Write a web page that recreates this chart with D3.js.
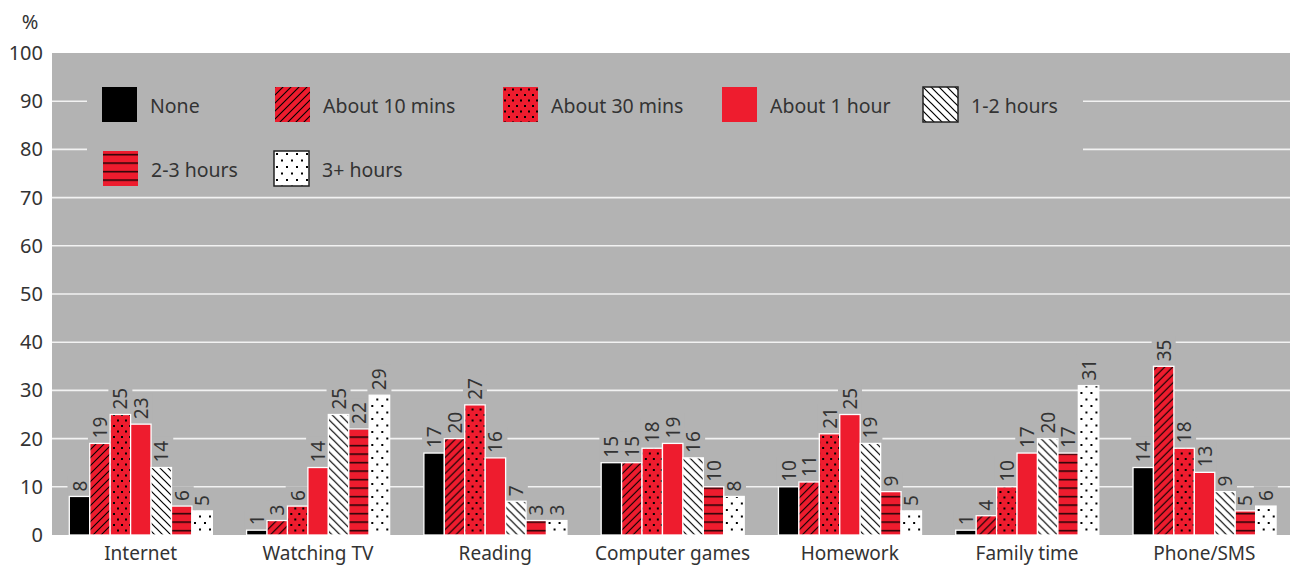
<!DOCTYPE html>
<html>
<head>
<meta charset="utf-8">
<script src="https://cdn.jsdelivr.net/npm/d3@7"></script>
<style>
  html, body { margin: 0; padding: 0; background: #fff; }
  svg { display: block; }
  text { font-family: "Noto Sans", "Open Sans", sans-serif; fill: #333; }
</style>
</head>
<body>
<svg id="chart" width="1290" height="565"></svg>
<script>
// Activities and how long children spend on them (% of respondents)
const categories = ["Internet", "Watching TV", "Reading", "Computer games", "Homework", "Family time", "Phone/SMS"];
const seriesNames = ["None", "About 10 mins", "About 30 mins", "About 1 hour", "1-2 hours", "2-3 hours", "3+ hours"];

const none        = [8, 1, 17, 15, 10, 1, 14];
const about10mins = [19, 3, 20, 15, 11, 4, 35];
const about30mins = [25, 6, 27, 18, 21, 10, 18];
const about1hour  = [23, 14, 16, 19, 25, 17, 13];
const hours1to2   = [14, 25, 7, 16, 19, 20, 9];
const hours2to3   = [6, 22, 3, 10, 9, 17, 5];
const hours3plus  = [5, 29, 3, 8, 5, 31, 6];

const yTicks = [0, 10, 20, 30, 40, 50, 60, 70, 80, 90, 100];

const seriesValues = [none, about10mins, about30mins, about1hour, hours1to2, hours2to3, hours3plus];

const RED = "#ee1c2e";
const GREY = "#b3b3b3";

const svg = d3.select("#chart");
const plot = { left: 52, right: 1290, top: 53, bottom: 535 };

const y = d3.scaleLinear().domain([0, 100]).range([plot.bottom, plot.top]);
const x0 = d3.scaleBand().domain(categories).range([plot.left, 1293]).paddingInner(0).paddingOuter(0);
const bw = x0.bandwidth();
const x1 = d3.scaleBand().domain(seriesNames).range([bw * 0.0976, bw * 0.9045]).padding(0);

// ---------- fill patterns ----------
const defs = svg.append("defs");

function pattern(id, w, h, bg) {
  const p = defs.append("pattern").attr("id", id).attr("patternUnits", "userSpaceOnUse")
    .attr("width", w).attr("height", h);
  p.append("rect").attr("width", w).attr("height", h).attr("fill", bg);
  return p;
}
// forward diagonal hatch on red
{
  const p = pattern("hatchFwd", 8, 8, RED);
  p.append("path").attr("d", "M-2,2 L2,-2 M0,8 L8,0 M6,10 L10,6").attr("stroke", "#000").attr("stroke-width", 1.1);
}
// dense dots on red
{
  const p = pattern("dotsRed", 8, 11, RED);
  p.append("rect").attr("x", 1).attr("y", 1.5).attr("width", 2).attr("height", 2).attr("fill", "#000");
  p.append("rect").attr("x", 5).attr("y", 7).attr("width", 2).attr("height", 2).attr("fill", "#000");
}
// backward diagonal hatch on white
{
  const p = pattern("hatchBack", 8, 8, "#fff");
  p.append("path").attr("d", "M-2,6 L2,10 M0,0 L8,8 M6,-2 L10,2").attr("stroke", "#000").attr("stroke-width", 1.2);
}
// horizontal stripes on red
{
  const p = pattern("stripes", 8, 8.5, RED);
  p.append("rect").attr("x", 0).attr("y", 3).attr("width", 8).attr("height", 1.3).attr("fill", "#000");
}
// sparse dots on white
{
  const p = pattern("dotsWhite", 10, 13, "#fff");
  p.append("rect").attr("x", 2).attr("y", 2).attr("width", 2).attr("height", 2).attr("fill", "#000");
  p.append("rect").attr("x", 7).attr("y", 8.5).attr("width", 2).attr("height", 2).attr("fill", "#000");
}

const fills = ["#000", "url(#hatchFwd)", "url(#dotsRed)", RED, "url(#hatchBack)", "url(#stripes)", "url(#dotsWhite)"];
const fillOf = d3.scaleOrdinal().domain(seriesNames).range(fills);

// ---------- background and grid ----------
svg.append("rect").attr("x", plot.left).attr("y", plot.top)
  .attr("width", plot.right - plot.left).attr("height", plot.bottom - plot.top).attr("fill", GREY);

const grid = svg.append("g");
grid.selectAll("line").data(yTicks.filter(t => t > 0 && t < 100)).join("line")
  .attr("x1", plot.left).attr("x2", plot.right)
  .attr("y1", d => y(d)).attr("y2", d => y(d))
  .attr("stroke", "#f2f2f2").attr("stroke-width", 1.6);

// y axis labels
const yAxis = svg.append("g").attr("transform", `translate(${plot.left},0)`)
  .call(d3.axisLeft(y).tickValues(yTicks).tickSize(0).tickPadding(9));
yAxis.select(".domain").remove();
yAxis.selectAll("text").attr("font-size", 20).attr("fill", "#333")
  .style("font-family", "'Noto Sans', 'Open Sans', sans-serif");

svg.append("text").attr("x", 30).attr("y", 29).attr("text-anchor", "middle")
  .attr("font-size", 20).text("%");

// x axis labels
const xAxis = svg.append("g").attr("transform", `translate(0,${plot.bottom})`)
  .call(d3.axisBottom(x0).tickSize(0).tickPadding(8));
xAxis.select(".domain").remove();
xAxis.selectAll("text").attr("font-size", 19).attr("fill", "#333")
  .attr("dy", "0").attr("y", 24.5)
  .style("font-family", "'Noto Sans', 'Open Sans', sans-serif");

// ---------- legend backdrop (hides grid lines behind it) ----------
svg.append("rect").attr("x", 87).attr("y", 76).attr("width", 996).attr("height", 117).attr("fill", GREY);

// ---------- bars ----------
const rows = categories.map((c, i) => ({
  category: c,
  items: seriesNames.map((s, j) => ({ series: s, value: seriesValues[j][i] }))
}));

const groups = svg.append("g").selectAll("g").data(rows).join("g")
  .attr("transform", d => `translate(${x0(d.category)},0)`);

// label masks drawn first so that they only cut grid lines
const masks = groups.append("g");
groups.selectAll("rect.bar").data(d => d.items).join("rect").attr("class", "bar")
  .attr("x", d => x1(d.series)).attr("width", x1.bandwidth())
  .attr("y", d => y(d.value)).attr("height", d => y(0) - y(d.value))
  .attr("fill", d => fillOf(d.series))
  .attr("stroke", "#fff").attr("stroke-width", 1.3);

const labels = groups.selectAll("text.val").data(d => d.items).join("text").attr("class", "val")
  .attr("transform", d => `translate(${x1(d.series) + x1.bandwidth() / 2 + 7},${y(d.value) - 5}) rotate(-90)`)
  .attr("font-size", 19).attr("text-anchor", "start")
  .text(d => d.value);

// grey boxes behind the value labels
labels.each(function (d) {
  const b = this.getBBox();
  const cx = x1(d.series) + x1.bandwidth() / 2;
  const len = b.width;
  d3.select(this.parentNode).select("g").append("rect")
    .attr("x", cx - 12).attr("width", 24)
    .attr("y", y(d.value) - 5 - len - 4).attr("height", len + 8)
    .attr("fill", GREY);
});

// ---------- legend ----------
const legendItems = [
  { name: seriesNames[0], x: 102, y: 87 },
  { name: seriesNames[1], x: 275, y: 87 },
  { name: seriesNames[2], x: 503, y: 87 },
  { name: seriesNames[3], x: 722, y: 87 },
  { name: seriesNames[4], x: 923, y: 87 },
  { name: seriesNames[5], x: 103, y: 151 },
  { name: seriesNames[6], x: 274, y: 151 }
];
const lg = svg.append("g").selectAll("g").data(legendItems).join("g")
  .attr("transform", d => `translate(${d.x},${d.y})`);
lg.append("rect").attr("width", 35).attr("height", 35)
  .attr("fill", d => fillOf(d.name))
  .attr("stroke", d => (d.name === "1-2 hours" || d.name === "3+ hours") ? "#222" : "none")
  .attr("stroke-width", 1.5);
lg.append("text").attr("x", 48).attr("y", 26).attr("font-size", 19.5).text(d => d.name);
</script>
</body>
</html>
